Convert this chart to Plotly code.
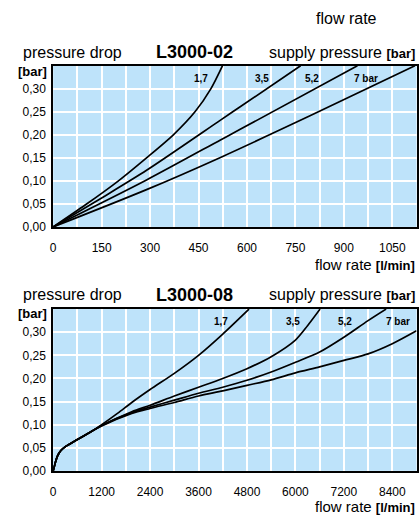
import plotly.graph_objects as go

# ---------------- data: L3000-02 ----------------
q02_17 = [0, 100, 200, 289, 372, 439, 488, 524]
p02_17 = [0, 0.048, 0.099, 0.150, 0.200, 0.250, 0.300, 0.350]
q02_35 = [0, 150, 289, 518, 579, 766]
p02_35 = [0, 0.063, 0.123, 0.232, 0.261, 0.350]
q02_52 = [0, 289, 518, 579, 942]
p02_52 = [0, 0.102, 0.189, 0.212, 0.350]
q02_70 = [0, 289, 518, 800, 1120]
p02_70 = [0, 0.081, 0.151, 0.243, 0.350]

# ---------------- data: L3000-08 ----------------
q08_17 = [0, 40, 105, 190, 310, 600, 925, 1200, 1600, 1946, 2400, 3000, 3600, 4200, 4850]
p08_17 = [0, 0.014, 0.032, 0.044, 0.053, 0.068, 0.084, 0.100, 0.125, 0.148, 0.176, 0.211, 0.250, 0.296, 0.350]
q08_35 = [0, 40, 105, 190, 310, 600, 925, 1200, 1946, 2400, 3000, 3600, 4200, 4800, 5400, 6000, 6300, 6611]
p08_35 = [0, 0.014, 0.032, 0.044, 0.053, 0.068, 0.084, 0.098, 0.128, 0.142, 0.162, 0.181, 0.200, 0.221, 0.247, 0.283, 0.314, 0.350]
q08_52 = [0, 40, 105, 190, 310, 600, 925, 1200, 1946, 2400, 3000, 3600, 4200, 4800, 5400, 6000, 6600, 7200, 7800, 8247]
p08_52 = [0, 0.014, 0.032, 0.044, 0.053, 0.068, 0.084, 0.098, 0.126, 0.138, 0.153, 0.168, 0.181, 0.196, 0.214, 0.235, 0.257, 0.289, 0.325, 0.350]
q08_70 = [0, 40, 105, 190, 310, 600, 925, 1200, 1946, 2400, 3000, 3600, 4200, 4800, 5400, 6000, 6600, 7200, 7800, 8400, 9000]
p08_70 = [0, 0.014, 0.032, 0.044, 0.053, 0.068, 0.084, 0.097, 0.124, 0.135, 0.148, 0.162, 0.173, 0.185, 0.197, 0.212, 0.225, 0.239, 0.253, 0.275, 0.303]

# curve labels
curve_labels = ["1,7", "3,5", "5,2", "7 bar"]
label_q02 = [457, 646, 800, 968]
label_q08 = [4156, 5931, 7224, 8532]
label_p = 0.323

# ticks
ytick_vals = [0, 0.05, 0.10, 0.15, 0.20, 0.25, 0.30]
ytick_text = ["0,00", "0,05", "0,10", "0,15", "0,20", "0,25", "0,30"]
xtick02_vals = [0, 150, 300, 450, 600, 750, 900, 1050]
xtick02_text = ["0", "150", "300", "450", "600", "750", "900", "1050"]
xtick08_vals = [0, 1200, 2400, 3600, 4800, 6000, 7200, 8400]
xtick08_text = ["0", "1200", "2400", "3600", "4800", "6000", "7200", "8400"]

W, H = 419, 520
FONT = "Liberation Sans, Arial, Helvetica, sans-serif"
BG = "rgb(190,227,250)"


def px(x):
    return x / W


def py(y):
    return 1 - y / H


fig = go.Figure()

for q, p in [(q02_17, p02_17), (q02_35, p02_35), (q02_52, p02_52), (q02_70, p02_70)]:
    fig.add_trace(go.Scatter(x=q, y=p, mode="lines", xaxis="x", yaxis="y",
                             line=dict(color="black", width=1.7, shape="spline", smoothing=0.8),
                             hoverinfo="skip", showlegend=False))
for q, p in [(q08_17, p08_17), (q08_35, p08_35), (q08_52, p08_52), (q08_70, p08_70)]:
    fig.add_trace(go.Scatter(x=q, y=p, mode="lines", xaxis="x2", yaxis="y2",
                             line=dict(color="black", width=1.7, shape="spline", smoothing=0.8),
                             hoverinfo="skip", showlegend=False))

xdom = [px(50.7), px(417.5)]
common_axis = dict(showline=True, linecolor="black", linewidth=2, mirror=True,
                   showgrid=True, gridcolor="white", gridwidth=1.5, zeroline=False,
                   ticks="", tickfont=dict(family=FONT, size=12, color="black"), fixedrange=True)

fig.update_layout(
    width=W, height=H, margin=dict(l=0, r=0, t=0, b=0),
    paper_bgcolor="white", plot_bgcolor=BG,
    font=dict(family=FONT, color="black"),
    xaxis=dict(domain=xdom, range=[0, 1125], anchor="y", tickvals=xtick02_vals, ticktext=xtick02_text,
               ticklabelstandoff=9,
               minor=dict(dtick=75, tick0=0, showgrid=True, gridcolor="white", gridwidth=1.5), **common_axis),
    yaxis=dict(domain=[py(230), py(66.7)], range=[0, 0.35], anchor="x", tickvals=ytick_vals, ticktext=ytick_text,
               ticklabelstandoff=3, **common_axis),
    xaxis2=dict(domain=xdom, range=[0, 9000], anchor="y2", tickvals=xtick08_vals, ticktext=xtick08_text,
                ticklabelstandoff=9,
                minor=dict(dtick=600, tick0=0, showgrid=True, gridcolor="white", gridwidth=1.5), **common_axis),
    yaxis2=dict(domain=[py(477.3), py(313.3)], range=[0, 0.35], anchor="x2", tickvals=ytick_vals, ticktext=ytick_text,
                ticklabelstandoff=3, **common_axis),
)

ann = []


def text(t, x, y, xanchor="center", size=16):
    ann.append(dict(text=t, x=px(x), y=py(y), xref="paper", yref="paper", showarrow=False,
                    xanchor=xanchor, yanchor="middle", font=dict(family=FONT, size=size, color="black")))


BAR = "<b><span style='font-size:13px'>[bar]</span></b>"
LMIN = "<b><span style='font-size:13px'>[l/min]</span></b>"

text("flow rate", 347, 19)
for y0, title in [(53, "L3000-02"), (299, "L3000-08")]:
    text("pressure drop", 18, y0, "left")
    text("<b>%s</b>" % title, 193, y0, "center", 18)
    text("supply pressure " + BAR, 418, y0, "right")
text(BAR, 46.5, 72, "right")
text(BAR, 46.5, 318, "right")
text("flow rate " + LMIN, 418, 268, "right", 15)
text("flow rate " + LMIN, 418, 513, "right", 15)

for lab, q in zip(curve_labels, label_q02):
    ann.append(dict(text="<b>%s</b>" % lab, x=q, y=label_p, xref="x", yref="y", showarrow=False,
                    font=dict(family=FONT, size=10, color="black")))
for lab, q in zip(curve_labels, label_q08):
    ann.append(dict(text="<b>%s</b>" % lab, x=q, y=label_p, xref="x2", yref="y2", showarrow=False,
                    font=dict(family=FONT, size=10, color="black")))

fig.update_layout(annotations=ann)
fig.write_html("out.html", config={"displayModeBar": False},
               post_script="document.body.style.margin='0';document.body.style.overflow='hidden';")
